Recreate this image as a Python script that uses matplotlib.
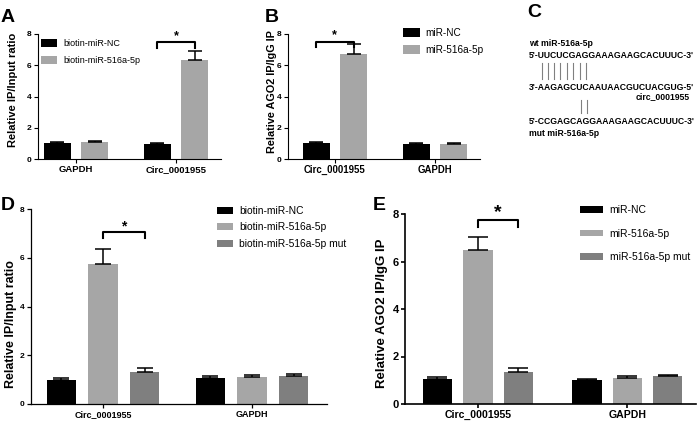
import numpy as np
import matplotlib
matplotlib.use("Agg")
import matplotlib.pyplot as plt

plt.rcParams['font.family'] = ['Liberation Sans', 'DejaVu Sans']

W, H = 697, 424

# ---- datos ----
a_groups = ['GAPDH', 'Circ_0001955']
a_labels = ['biotin-miR-NC', 'biotin-miR-516a-5p']
a_nc = [1.05, 0.97]
a_nc_err = [0.06, 0.06]
a_mir = [1.10, 6.35]
a_mir_err = [0.05, 0.58]

b_groups = ['Circ_0001955', 'GAPDH']
b_labels = ['miR-NC', 'miR-516a-5p']
b_nc = [1.01, 0.93]
b_nc_err = [0.11, 0.08]
b_mir = [6.70, 0.96]
b_mir_err = [0.63, 0.07]

d_groups = ['Circ_0001955', 'GAPDH']
d_labels = ['biotin-miR-NC', 'biotin-miR-516a-5p', 'biotin-miR-516a-5p mut']
d_nc = [0.97, 1.05]
d_nc_err = [0.08, 0.08]
d_mir = [5.76, 1.10]
d_mir_err = [0.58, 0.07]
d_mut = [1.31, 1.13]
d_mut_err = [0.17, 0.09]

e_groups = ['Circ_0001955', 'GAPDH']
e_labels = ['miR-NC', 'miR-516a-5p', 'miR-516a-5p mut']
e_nc = [1.07, 1.02]
e_nc_err = [0.07, 0.05]
e_mir = [6.47, 1.10]
e_mir_err = [0.55, 0.06]
e_mut = [1.35, 1.17]
e_mut_err = [0.17, 0.07]

wt_name = "wt miR-516a-5p"
wt_seq = "5'-UUCUCGAGGAAAGAAGCACUUUC-3'"
circ_seq = "3'-AAGAGCUCAAUAACGUCUACGUG-5'"
circ_name = "circ_0001955"
mut_seq = "5'-CCGAGCAGGAAAGAAGCACUUUC-3'"
mut_name = "mut miR-516a-5p"

colors = ['#000000', '#a6a6a6', '#7f7f7f']


def px_axes(fig, x0, y0, x1, y1):
    # caja en pixeles (origen arriba a la izquierda)
    return fig.add_axes([x0 / W, 1 - y1 / H, (x1 - x0) / W, (y1 - y0) / H])


def panel(ax, groups, series, errs, offsets, width, xlim, capsize, lw,
          tick_fs, cat_fs, ylabel, ylab_fs, ylab_xy):
    x = np.arange(len(groups))
    bars = []
    for i in range(len(series)):
        xs = x + offsets[i]
        b = ax.bar(xs, series[i], width, color=colors[i], zorder=2)
        ax.errorbar(xs, series[i], yerr=[np.zeros(len(groups)), errs[i]],
                    fmt='none', ecolor='black', elinewidth=1.1,
                    capsize=capsize, capthick=1.1, zorder=3)
        bars.append(b)
    ax.set_xlim(*xlim)
    ax.set_ylim(0, 8)
    ax.set_yticks([0, 2, 4, 6, 8])
    ax.set_xticks(x)
    ax.set_xticklabels(groups, fontsize=cat_fs, fontweight='bold')
    for t in ax.get_yticklabels():
        t.set_fontsize(tick_fs)
        t.set_fontweight('bold')
    ax.spines['top'].set_visible(False)
    ax.spines['right'].set_visible(False)
    ax.spines['left'].set_linewidth(lw)
    ax.spines['bottom'].set_linewidth(lw)
    ax.tick_params(direction='out', length=3, width=lw, pad=1.5)
    ax.set_ylabel(ylabel, fontsize=ylab_fs, fontweight='bold')
    ax.yaxis.set_label_coords(*ylab_xy)
    return bars


def bracket(ax, x1, x2, y_top, y_low, star_y, star_fs):
    ax.plot([x1, x1, x2, x2], [y_low, y_top, y_top, y_low], color='black',
            lw=1.5, clip_on=False, zorder=4)
    ax.text((x1 + x2) / 2, star_y, '*', ha='center', va='center',
            fontsize=star_fs, fontweight='bold', clip_on=False)


fig = plt.figure(figsize=(W / 100, H / 100), dpi=100)
fig.patch.set_facecolor('white')

# capa de texto en pixeles (letras y panel C)
ov = fig.add_axes([0, 0, 1, 1])
ov.set_xlim(0, W)
ov.set_ylim(H, 0)
ov.axis('off')

# ---- A ----
axA = px_axes(fig, 38, 34, 221, 159)
barsA = panel(axA, a_groups, [a_nc, a_mir], [a_nc_err, a_mir_err],
              [-0.1875, 0.1875], 0.27, (-0.38, 1.45), 5, 0.8,
              6, 6.8, 'Relative IP/Input ratio', 8, (-0.11, 0.55))
bracket(axA, 1 - 0.1875, 1 + 0.1875, 7.5, 7.1, 7.85, 9)
fig.legend(barsA, a_labels, loc='upper left',
           bbox_to_anchor=(41 / W, 1 - 39 / H), bbox_transform=fig.transFigure,
           frameon=False, fontsize=6.5, borderpad=0, borderaxespad=0,
           handlelength=1.8, handleheight=0.9, labelspacing=0.9,
           handletextpad=0.7)

# ---- B ----
axB = px_axes(fig, 288, 34, 480, 159)
barsB = panel(axB, b_groups, [b_nc, b_mir], [b_nc_err, b_mir_err],
              [-0.19, 0.185], 0.27, (-0.47, 1.45), 5, 0.8,
              6, 6.9, 'Relative AGO2 IP/IgG IP', 7.8, (-0.057, 0.54))
bracket(axB, -0.19, 0.185, 7.5, 7.2, 7.95, 9)
fig.legend(barsB, b_labels, loc='upper left',
           bbox_to_anchor=(403 / W, 1 - 28 / H), bbox_transform=fig.transFigure,
           frameon=False, fontsize=7.2, borderpad=0, borderaxespad=0,
           handlelength=1.7, handleheight=0.9, labelspacing=0.7,
           handletextpad=0.5)

# ---- D ----
axD = px_axes(fig, 31, 209, 327, 404)
barsD = panel(axD, d_groups, [d_nc, d_mir, d_mut],
              [d_nc_err, d_mir_err, d_mut_err],
              [-0.279, 0.0, 0.279], 0.195, (-0.483, 1.503), 6, 0.9,
              6, 6.5, 'Relative IP/Input ratio', 9, (-0.047, 0.41))
bracket(axD, 0.0, 0.279, 7.06, 6.8, 7.3, 10)
fig.legend(barsD, d_labels, loc='upper left',
           bbox_to_anchor=(217 / W, 1 - 206 / H), bbox_transform=fig.transFigure,
           frameon=False, fontsize=7.4, borderpad=0, borderaxespad=0,
           handlelength=1.55, handleheight=0.7, labelspacing=0.62,
           handletextpad=0.6)

# ---- E ----
axE = px_axes(fig, 405, 214, 696, 404)
barsE = panel(axE, e_groups, [e_nc, e_mir, e_mut],
              [e_nc_err, e_mir_err, e_mut_err],
              [-0.271, 0.0, 0.271], 0.197, (-0.488, 1.46), 7, 1.2,
              8, 7.6, 'Relative AGO2 IP/IgG IP', 9.5, (-0.058, 0.48))
bracket(axE, 0.0, 0.271, 7.75, 7.45, 8.05, 14)
fig.legend(barsE, e_labels, loc='upper left',
           bbox_to_anchor=(580 / W, 1 - 205 / H), bbox_transform=fig.transFigure,
           frameon=False, fontsize=7.5, borderpad=0, borderaxespad=0,
           handlelength=2.2, handleheight=0.6, labelspacing=1.3,
           handletextpad=0.65)

# ---- C: esquema de secuencias ----
seq_kw = dict(fontsize=6.2, fontweight='bold', va='center')
ov.text(529, 44, wt_name, ha='left', **seq_kw)
ov.text(529, 55, wt_seq, ha='left', **seq_kw)
ov.text(529, 87, circ_seq, ha='left', **seq_kw)
ov.text(690, 97, circ_name, ha='right', **seq_kw)
ov.text(529, 122, mut_seq, ha='left', **seq_kw)
ov.text(529, 133, mut_name, ha='left', **seq_kw)
for xv in [542, 548, 554, 560, 567, 573, 580, 586]:
    ov.plot([xv, xv], [63, 79], color='#808080', lw=0.8)
for xv in [581, 587]:
    ov.plot([xv, xv], [100, 113], color='#808080', lw=0.8)

# letras de panel
for lab, xx, yy in [('A', 1, 22), ('B', 265, 22), ('C', 527, 17),
                    ('D', 1, 210), ('E', 373, 210)]:
    ov.text(xx, yy, lab, fontsize=14, fontweight='bold', ha='left',
            va='baseline')

fig.savefig('out.png', dpi=100)
